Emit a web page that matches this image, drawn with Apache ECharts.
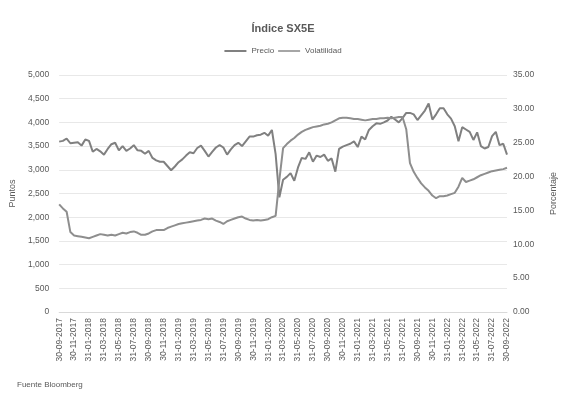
<!DOCTYPE html>
<html>
<head>
<meta charset="utf-8">
<script src="https://cdn.jsdelivr.net/npm/echarts@6/dist/echarts.min.js"></script>
<style>html,body{margin:0;padding:0;background:#fff;}#c{width:566px;height:402px;}</style>
</head>
<body>
<div id="c"></div>
<script>
// Semi-monthly sample dates (15th and month end), Sep 2017 - Sep 2022
function buildDates() {
  var out = [];
  function fmt(d) {
    var dd = ('0' + d.getDate()).slice(-2), mm = ('0' + (d.getMonth() + 1)).slice(-2);
    return dd + '-' + mm + '-' + d.getFullYear();
  }
  for (var k = 0; k <= 60; k++) {
    var y = 2017, m = 8 + k;
    if (k > 0) out.push(fmt(new Date(y, m, 15)));
    out.push(fmt(new Date(y, m + 1, 0)));
  }
  return out;
}
var categories = buildDates();

var tickLabels = ["30-09-2017","30-11-2017","31-01-2018","31-03-2018","31-05-2018","31-07-2018",
  "30-09-2018","30-11-2018","31-01-2019","31-03-2019","31-05-2019","31-07-2019",
  "30-09-2019","30-11-2019","31-01-2020","31-03-2020","31-05-2020","31-07-2020",
  "30-09-2020","30-11-2020","31-01-2021","31-03-2021","31-05-2021","31-07-2021",
  "30-09-2021","30-11-2021","31-01-2022","31-03-2022","31-05-2022","31-07-2022","30-09-2022"];

var precio = [
  3594, 3610, 3660, 3560, 3570, 3580, 3510, 3640, 3610, 3380,
  3440, 3390, 3320, 3440, 3540, 3570, 3410, 3500, 3400, 3450,
  3520, 3410, 3400, 3340, 3400, 3250, 3200, 3170, 3170, 3080,
  2990, 3070, 3160, 3220, 3300, 3370, 3350, 3460, 3510, 3400,
  3280, 3380, 3470, 3520, 3470, 3320, 3430, 3520, 3570, 3500,
  3600, 3700, 3700, 3730, 3740, 3780, 3720, 3840, 3330, 2420,
  2790, 2850, 2930, 2770, 3050, 3250, 3230, 3370, 3170, 3300,
  3270, 3320, 3190, 3240, 2960, 3440, 3490, 3520, 3550, 3600,
  3480, 3700, 3640, 3840, 3920, 3980, 3970, 4000, 4040, 4120,
  4060, 4000, 4090, 4200, 4200, 4170, 4050, 4150, 4250, 4400,
  4060, 4170, 4300, 4300, 4170, 4080, 3920, 3600, 3900, 3850,
  3800, 3630, 3790, 3500, 3450, 3480, 3710, 3800, 3520, 3550,
  3320
];

var volatilidad = [
  15.9, 15.3, 14.8, 11.8, 11.3, 11.2, 11.1, 11.0, 10.9, 11.1,
  11.3, 11.5, 11.4, 11.3, 11.4, 11.3, 11.5, 11.7, 11.6, 11.8,
  11.9, 11.7, 11.4, 11.4, 11.6, 11.9, 12.1, 12.1, 12.1, 12.4,
  12.6, 12.8, 13.0, 13.1, 13.2, 13.3, 13.4, 13.5, 13.6, 13.8,
  13.7, 13.8, 13.5, 13.3, 13.0, 13.4, 13.6, 13.8, 14.0, 14.1,
  13.8, 13.6, 13.5, 13.6, 13.5, 13.6, 13.7, 14.0, 14.2, 19.5,
  24.2, 24.8, 25.3, 25.7, 26.2, 26.6, 26.9, 27.1, 27.3, 27.4,
  27.5, 27.7, 27.8, 28.0, 28.3, 28.6, 28.7, 28.7, 28.6, 28.5,
  28.5, 28.4, 28.3, 28.4, 28.5, 28.5, 28.6, 28.6, 28.7, 28.6,
  28.7, 28.8, 28.8, 27.0, 22.0, 20.7, 19.8, 19.0, 18.4, 17.9,
  17.2, 16.8, 17.1, 17.1, 17.2, 17.4, 17.6, 18.5, 19.8, 19.2,
  19.4, 19.6, 19.9, 20.2, 20.4, 20.6, 20.8, 20.9, 21.0, 21.1,
  21.3
];

var leftTicks = [0, 5000, 500];
var rightTicks = [0, 35, 5];

var tickSet = {};
tickLabels.forEach(function (t) { tickSet[t] = true; });

var FONT = '"Liberation Sans", Arial, sans-serif';
var TXT = '#595959';

var chart = echarts.init(document.getElementById('c'), null, { renderer: 'canvas' });
chart.setOption({
  animation: false,
  backgroundColor: '#ffffff',
  title: [
    { text: 'Índice SX5E', left: 'center', top: 18,
      textStyle: { fontFamily: FONT, fontSize: 11, fontWeight: 'bold', color: TXT } },
    { text: 'Fuente Bloomberg', left: 12, top: 376,
      textStyle: { fontFamily: FONT, fontSize: 8, fontWeight: 'normal', color: TXT } }
  ],
  legend: {
    top: 42, left: 'center', itemWidth: 22, itemHeight: 2, itemGap: 4, icon: 'rect',
    textStyle: { fontFamily: FONT, fontSize: 8, color: TXT },
    data: ['Precio', 'Volatilidad']
  },
  grid: { left: 56, right: 48, top: 75, bottom: 90, containLabel: false },
  xAxis: {
    type: 'category', data: categories, boundaryGap: false,
    axisLine: { lineStyle: { color: '#d9d9d9' } },
    axisTick: { show: false },
    axisLabel: {
      interval: function (idx, val) { return !!tickSet[val]; },
      rotate: 90, fontFamily: FONT, fontSize: 8.5, color: TXT, margin: 6
    }
  },
  yAxis: [
    { type: 'value', min: leftTicks[0], max: leftTicks[1], interval: leftTicks[2],
      name: 'Puntos', nameLocation: 'middle', nameGap: 38, nameRotate: 90,
      nameTextStyle: { fontFamily: FONT, fontSize: 9, color: TXT },
      axisLine: { show: false }, axisTick: { show: false },
      axisLabel: { fontFamily: FONT, fontSize: 8.5, color: TXT, margin: 10,
        formatter: function (v) { return v.toLocaleString('en-US'); } },
      splitLine: { lineStyle: { color: '#e8e8e8', width: 1 } } },
    { type: 'value', min: rightTicks[0], max: rightTicks[1], interval: rightTicks[2],
      name: 'Porcentaje', nameLocation: 'middle', nameGap: 42, nameRotate: 90,
      nameTextStyle: { fontFamily: FONT, fontSize: 9, color: TXT },
      axisLine: { show: false }, axisTick: { show: false },
      axisLabel: { fontFamily: FONT, fontSize: 8.5, color: TXT, margin: 6,
        formatter: function (v) { return v.toFixed(2); } },
      splitLine: { show: false } }
  ],
  series: [
    { name: 'Precio', type: 'line', yAxisIndex: 0, data: precio, symbol: 'none',
      lineStyle: { color: '#808080', width: 2 }, itemStyle: { color: '#808080' } },
    { name: 'Volatilidad', type: 'line', yAxisIndex: 1, data: volatilidad, symbol: 'none',
      lineStyle: { color: '#8e8e8e', width: 2 }, itemStyle: { color: '#a6a6a6' } }
  ]
});
</script>
</body>
</html>
